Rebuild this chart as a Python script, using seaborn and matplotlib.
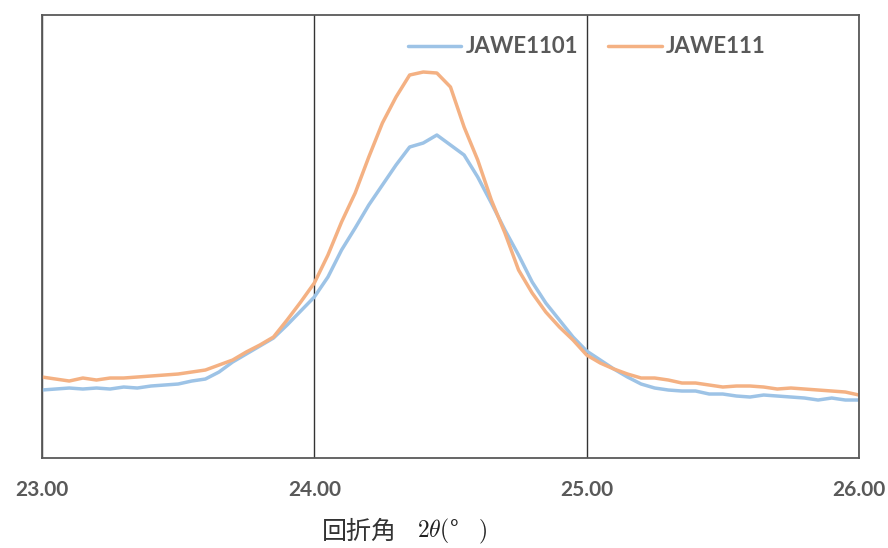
import pandas as pd
import matplotlib
matplotlib.use("Agg")
import matplotlib.pyplot as plt
import seaborn as sns

# diffraction angle 2theta (deg), sampled every 0.05
two_theta = [
    23.00, 23.05, 23.10, 23.15, 23.20, 23.25, 23.30, 23.35, 23.40, 23.45,
    23.50, 23.55, 23.60, 23.65, 23.70, 23.75, 23.80, 23.85, 23.90, 23.95,
    24.00, 24.05, 24.10, 24.15, 24.20, 24.25, 24.30, 24.35, 24.40, 24.45,
    24.50, 24.55, 24.60, 24.65, 24.70, 24.75, 24.80, 24.85, 24.90, 24.95,
    25.00, 25.05, 25.10, 25.15, 25.20, 25.25, 25.30, 25.35, 25.40, 25.45,
    25.50, 25.55, 25.60, 25.65, 25.70, 25.75, 25.80, 25.85, 25.90, 25.95,
    26.00,
]

# intensity (arbitrary units)
jawe1101 = [
    68, 69, 70, 69, 70, 69, 71, 70, 72, 73,
    74, 77, 79, 86, 96, 104, 112, 120, 133, 147,
    161, 181, 208, 230, 253, 273, 293, 311, 315, 323,
    313, 303, 281, 255, 228, 203, 176, 155, 138, 121,
    107, 98, 89, 81, 74, 70, 68, 67, 67, 64,
    64, 62, 61, 63, 62, 61, 60, 58, 60, 58,
    58,
]
jawe111 = [
    81, 79, 77, 80, 78, 80, 80, 81, 82, 83,
    84, 86, 88, 93, 98, 106, 113, 121, 138, 156,
    175, 203, 236, 265, 301, 335, 361, 383, 386, 385,
    371, 331, 298, 258, 225, 188, 165, 146, 131, 118,
    103, 95, 89, 84, 80, 80, 78, 75, 75, 73,
    71, 72, 72, 71, 69, 70, 69, 68, 67, 66,
    63,
]

series_names = ["JAWE1101", "JAWE111"]
x_ticks = [23, 24, 25, 26]
x_tick_labels = ["23.00", "24.00", "25.00", "26.00"]
x_label_word = "回折角"
x_label_symbol = r"$2\theta($" + "°" + r"$\quad)$"

df = pd.concat([
    pd.DataFrame({"angle": two_theta, "intensity": jawe1101, "sample": series_names[0]}),
    pd.DataFrame({"angle": two_theta, "intensity": jawe111, "sample": series_names[1]}),
])

sns.set_style("white")
plt.rcParams["font.family"] = ["Lato", "DejaVu Sans"]
plt.rcParams["mathtext.fontset"] = "cm"

fig = plt.figure(figsize=(8.88, 5.48), dpi=100)
ax = fig.add_axes([0.0473, 0.1642, 0.9200, 0.8084])

sns.lineplot(data=df, x="angle", y="intensity", hue="sample",
             palette={"JAWE1101": "#9DC3E6", "JAWE111": "#F4B183"},
             linewidth=2.5, ax=ax)

ax.set_xlim(23, 26)
ax.set_ylim(0, 443)
ax.set_yticks([])
ax.set_xticks(x_ticks)
ax.set_xticklabels(x_tick_labels, fontsize=15, fontweight="bold", color="#595959")
ax.tick_params(axis="x", length=0, pad=16)
ax.set_xlabel("")
ax.set_ylabel("")
ax.grid(axis="x", color="#333333", linewidth=1.0)
for sp in ax.spines.values():
    sp.set_color("#595959")
    sp.set_linewidth(1.3)

leg = ax.legend(loc="center", bbox_to_anchor=(0.667, 0.928), ncol=2, frameon=False,
                handlelength=2.4, columnspacing=1.35, handletextpad=0.2,
                prop={"size": 16, "weight": "bold"})
for t in leg.get_texts():
    t.set_color("#595959")

# axis title: Japanese word plus the 2theta symbol
fig.text(397 / 888, 1 - 532 / 548, x_label_word, ha="right", va="center", fontsize=18,
         color="#333333", family=["Noto Sans CJK JP", "DejaVu Sans"])
fig.text(417 / 888, 1 - 531 / 548, x_label_symbol, ha="left", va="center", fontsize=17,
         color="#222222", family=["Noto Sans CJK JP", "DejaVu Sans"])

fig.savefig("out.png", dpi=100)
